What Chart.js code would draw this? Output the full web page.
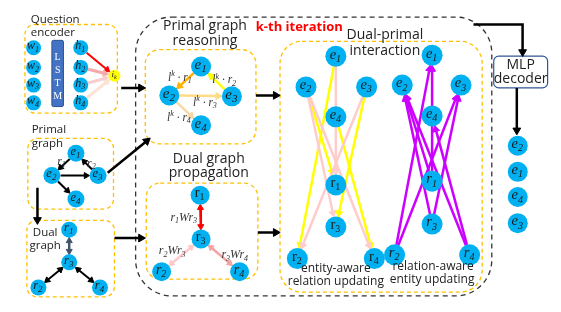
<!DOCTYPE html>
<html>
<head>
<meta charset="utf-8">
<script src="https://cdn.jsdelivr.net/npm/chart.js@4.4.0/dist/chart.umd.min.js"></script>
<style>
  html, body { margin: 0; padding: 0; background: #fff; }
  canvas { display: block; }
</style>
</head>
<body>
<canvas id="diagram" width="561" height="312"></canvas>
<script>
// Node positions, in figure units (the axes run 0..561 and 0..312)
const wordNodes = [
    { id: 'w1', t: 'w', s: '1', x: 24, y: 40 },
    { id: 'w2', t: 'w', s: '2', x: 24, y: 61 },
    { id: 'w3', t: 'w', s: '3', x: 24, y: 80 },
    { id: 'w4', t: 'w', s: '4', x: 24, y: 99 }
];
const hiddenNodes = [
    { id: 'h1', t: 'h', s: '1', x: 73, y: 40 },
    { id: 'h2', t: 'h', s: '2', x: 73, y: 61 },
    { id: 'h3', t: 'h', s: '3', x: 73, y: 80 },
    { id: 'h4', t: 'h', s: '4', x: 73, y: 99 }
];
const instructionNodes = [{ id: 'ik', t: 'i', s: 'k', x: 108, y: 70 }];
const primalNodes = [
    { id: 'pe1', t: 'e', s: '1', x: 68, y: 153 },
    { id: 'pe2', t: 'e', s: '2', x: 43, y: 177 },
    { id: 'pe3', t: 'e', s: '3', x: 91, y: 177 },
    { id: 'pe4', t: 'e', s: '4', x: 68, y: 202 }
];
const dualNodes = [
    { id: 'dr1', t: 'r', s: '1', x: 61, y: 235 },
    { id: 'dr3', t: 'r', s: '3', x: 61, y: 270 },
    { id: 'dr2', t: 'r', s: '2', x: 29, y: 297 },
    { id: 'dr4', t: 'r', s: '4', x: 93, y: 297 }
];
const reasoningNodes = [
    { id: 're1', t: 'e', s: '1', x: 198, y: 60 },
    { id: 're2', t: 'e', s: '2', x: 165, y: 91 },
    { id: 're3', t: 'e', s: '3', x: 230, y: 92 },
    { id: 're4', t: 'e', s: '4', x: 198, y: 123 }
];
const propagationNodes = [
    { id: 'pr1', t: 'r', s: '1', x: 197, y: 198, up: true },
    { id: 'pr3', t: 'r', s: '3', x: 198, y: 245, up: true },
    { id: 'pr2', t: 'r', s: '2', x: 157, y: 280 },
    { id: 'pr4', t: 'r', s: '4', x: 238, y: 280 }
];
const entityAwareNodes = [
    { id: 'ae1', t: 'e', s: '1', x: 338, y: 49 },
    { id: 'ae2', t: 'e', s: '2', x: 307, y: 82 },
    { id: 'ae3', t: 'e', s: '3', x: 370, y: 82 },
    { id: 'ae4', t: 'e', s: '4', x: 338, y: 114 },
    { id: 'ar1', t: 'r', s: '1', x: 338, y: 187, up: true },
    { id: 'ar3', t: 'r', s: '3', x: 338, y: 232, up: true },
    { id: 'ar2', t: 'r', s: '2', x: 298, y: 266, up: true },
    { id: 'ar4', t: 'r', s: '4', x: 378, y: 266, up: true }
];
const relationAwareNodes = [
    { id: 'be1', t: 'e', s: '1', x: 438, y: 48 },
    { id: 'be2', t: 'e', s: '2', x: 407, y: 80 },
    { id: 'be3', t: 'e', s: '3', x: 468, y: 80 },
    { id: 'be4', t: 'e', s: '4', x: 438, y: 113 },
    { id: 'br1', t: 'r', s: '1', x: 438, y: 183 },
    { id: 'br3', t: 'r', s: '3', x: 438, y: 229 },
    { id: 'br2', t: 'r', s: '2', x: 399, y: 262 },
    { id: 'br4', t: 'r', s: '4', x: 477, y: 262 }
];
const outputNodes = [
    { id: 'oe2', t: 'e', s: '2', x: 527, y: 145 },
    { id: 'oe1', t: 'e', s: '1', x: 527, y: 173 },
    { id: 'oe4', t: 'e', s: '4', x: 527, y: 200 },
    { id: 'oe3', t: 'e', s: '3', x: 527, y: 228 }
];

// Edges, as [from, to]
const attentionEdges = [['h4', 'ik'], ['h3', 'ik'], ['h2', 'ik'], ['h1', 'ik']];
const primalEdges = [['pe1', 'pe2'], ['pe3', 'pe1'], ['pe2', 'pe3'], ['pe2', 'pe4']];
const reasoningEdges = [['re2', 're4'], ['re2', 're3'], ['re1', 're2'], ['re3', 're1']];
const propagationEdges = [['pr2', 'pr3'], ['pr4', 'pr3'], ['pr1', 'pr3']];
const entityPinkEdges = [['ae1', 'ar1'], ['ae3', 'ar2'], ['ae2', 'ar3'], ['ae2', 'ar4']];
const entityYellowEdges = [['ae1', 'ar2'], ['ae2', 'ar1'], ['ae3', 'ar3'], ['ae4', 'ar4']];
const relationEdges = [
    ['br1', 'be1'], ['br1', 'be2'], ['br2', 'be3'], ['br2', 'be1'],
    ['br3', 'be2'], ['br3', 'be3'], ['br4', 'be2'], ['br4', 'be4']
];

// Black flow arrows between the blocks
const flowArrows = [
    [[115, 83], [140, 83]],
    [[101, 174], [145, 137]],
    [[28, 190], [28, 229]],
    [[108, 244], [140, 244]],
    [[255, 91], [280, 91]],
    [[257, 238], [280, 238]],
    [[481, 15], [532, 15], [532, 49]],
    [[526, 83], [526, 133]]
];

// Styles
const NODE_BLUE = '#00B0F0';
const BOX_ORANGE = '#FFC000';
const LABEL_FONT = '"Open Sans", "Noto Sans", sans-serif';
const MATH_FONT = '"Liberation Serif", "DejaVu Serif", serif';

const nodeIndex = {};
[wordNodes, hiddenNodes, instructionNodes, primalNodes, dualNodes, reasoningNodes,
 propagationNodes, entityAwareNodes, relationAwareNodes, outputNodes]
    .forEach(group => group.forEach(n => { nodeIndex[n.id] = n; }));

const nodeGroups = [
    { nodes: wordNodes, r: 7.5, fs: 12 },
    { nodes: hiddenNodes, r: 7.5, fs: 12 },
    { nodes: instructionNodes, r: 6, fs: 9, color: '#FFFF00' },
    { nodes: primalNodes, r: 8.5, fs: 12.5 },
    { nodes: dualNodes, r: 8, fs: 12.5 },
    { nodes: reasoningNodes, r: 10, fs: 15 },
    { nodes: propagationNodes, r: 9.5, fs: 14 },
    { nodes: entityAwareNodes, r: 10.5, fs: 14.5 },
    { nodes: relationAwareNodes, r: 10.5, fs: 14.5 },
    { nodes: outputNodes, r: 10, fs: 14.5 }
];
const radiusOf = {};
nodeGroups.forEach(g => g.nodes.forEach(n => { radiusOf[n.id] = g.r; }));

const toDeg = (ux, uy) => Math.atan2(ux, -uy) * 180 / Math.PI;

// One line dataset per edge; arrowheads are triangle point styles
function edgeDataset(from, to, color, width, head, doubleHead) {
    const a = nodeIndex[from], b = nodeIndex[to];
    const dx = b.x - a.x, dy = b.y - a.y;
    const len = Math.hypot(dx, dy);
    const ux = dx / len, uy = dy / len;
    const ra = radiusOf[from] + 0.5, rb = radiusOf[to] + 0.5;
    const startOff = doubleHead ? ra + head : ra;
    return {
        data: [
            { x: a.x + ux * startOff, y: a.y + uy * startOff },
            { x: b.x - ux * (rb + head), y: b.y - uy * (rb + head) }
        ],
        showLine: true,
        borderColor: color,
        borderWidth: width,
        pointRadius: [doubleHead ? head : 0, head],
        pointStyle: 'triangle',
        pointRotation: [toDeg(-ux, -uy), toDeg(ux, uy)],
        pointBackgroundColor: color,
        pointBorderColor: color,
        pointBorderWidth: 1,
        order: 2
    };
}

function flowDataset(points) {
    const n = points.length;
    const [px, py] = points[n - 2], [qx, qy] = points[n - 1];
    const len = Math.hypot(qx - px, qy - py);
    const ux = (qx - px) / len, uy = (qy - py) / len;
    const head = 4.5;
    const data = points.map(([x, y]) => ({ x, y }));
    data[n - 1] = { x: qx - ux * head, y: qy - uy * head };
    return {
        data,
        showLine: true,
        borderColor: '#000',
        borderWidth: 2.5,
        pointRadius: points.map((p, i) => (i === n - 1 ? head : 0)),
        pointStyle: 'triangle',
        pointRotation: toDeg(ux, uy),
        pointBackgroundColor: '#000',
        pointBorderColor: '#000',
        pointBorderWidth: 1,
        order: 2
    };
}

const datasets = [];
const attentionColors = ['#FBE3D6', '#F9CDCD', '#F6A9A9', '#FF0000'];
attentionEdges.forEach((e, i) => datasets.push(edgeDataset(e[0], e[1], attentionColors[i], i === 3 ? 2 : 3, 3.5)));
primalEdges.forEach(e => datasets.push(edgeDataset(e[0], e[1], '#000', 2, 3.5)));
datasets.push(edgeDataset('dr1', 'dr3', '#44546A', 2.5, 3.5, true));
datasets.push(edgeDataset('dr3', 'dr2', '#000', 2, 3.5, true));
datasets.push(edgeDataset('dr3', 'dr4', '#000', 2, 3.5, true));
const reasoningColors = ['#F9D8A6', '#FFDB85', '#FFB000', '#FFFF00'];
reasoningEdges.forEach((e, i) => datasets.push(edgeDataset(e[0], e[1], reasoningColors[i], 2.5, 4)));
const propagationColors = ['#FFC9C9', '#F4A3A3', '#FF0000'];
propagationEdges.forEach((e, i) => datasets.push(edgeDataset(e[0], e[1], propagationColors[i], 2.5, 3.5, true)));
entityPinkEdges.forEach(e => datasets.push(edgeDataset(e[0], e[1], '#FFCCCC', 2.5, 4)));
entityYellowEdges.forEach(e => datasets.push(edgeDataset(e[0], e[1], '#FFFF00', 2.5, 4)));
relationEdges.forEach(e => datasets.push(edgeDataset(e[0], e[1], '#CC00FF', 2.5, 4)));
flowArrows.forEach(p => datasets.push(flowDataset(p)));

nodeGroups.forEach(g => datasets.push({
    data: g.nodes.map(n => ({ x: n.x, y: n.y })),
    pointRadius: g.r,
    pointBackgroundColor: g.color || NODE_BLUE,
    pointBorderWidth: 0,
    order: 1
}));

// Dashed block outlines: [x0, y0, x1, y1, radius]
const orangeBoxes = [
    [15, 15, 111, 110, 10],
    [18, 137, 107, 213, 10],
    [17, 225, 108, 307, 10],
    [140, 42, 255, 143, 14],
    [141, 185, 257, 288, 14],
    [280, 33, 490, 302, 22]
];
const iterationBox = [130, 7, 500, 306, 36];
const decoderBox = [502, 49, 558, 83, 5];
const lstmBar = [43, 32, 55, 103];
const lstmLetters = ['L', 'S', 'T', 'M'];
const lstmRows = [50, 64, 78, 92];

const titles = [
    { s: 'Question', x: 21, y: 10, size: 11.5, align: 'left' },
    { s: 'encoder', x: 21, y: 24, size: 11.5, align: 'left' },
    { s: 'Primal', x: 22, y: 128, size: 11.5, align: 'left' },
    { s: 'graph', x: 22, y: 143, size: 11.5, align: 'left' },
    { s: 'Dual', x: 36, y: 238, size: 11.5 },
    { s: 'graph', x: 36, y: 252, size: 11.5 },
    { s: 'Primal graph', x: 202, y: 17, size: 14 },
    { s: 'reasoning', x: 202, y: 33, size: 14 },
    { s: 'Dual graph', x: 206, y: 159, size: 14 },
    { s: 'propagation', x: 206, y: 174, size: 14 },
    { s: 'Dual-primal', x: 389, y: 26, size: 14 },
    { s: 'interaction', x: 389, y: 43, size: 14 },
    { s: 'entity-aware', x: 338, y: 277, size: 12 },
    { s: 'relation updating', x: 338, y: 291, size: 12 },
    { s: 'relation-aware', x: 439, y: 275, size: 12 },
    { s: 'entity updating', x: 438, y: 288, size: 12 },
    { s: 'MLP', x: 530, y: 58, size: 14 },
    { s: 'decoder', x: 530, y: 73, size: 14 },
    { s: 'k-th iteration', x: 300, y: 18, size: 13, bold: true, color: '#FF0000' }
];

// Math labels on edges: parts are [text, 'n' | 'sub' | 'sup']
const edgeLabels = [
    { x: 176, y: 72, parts: [['l', 'n'], ['k', 'sup'], [' · r', 'n'], ['1', 'sub']] },
    { x: 222, y: 75, parts: [['l', 'n'], ['k', 'sup'], [' · r', 'n'], ['2', 'sub']] },
    { x: 202, y: 99, parts: [['l', 'n'], ['k', 'sup'], [' · r', 'n'], ['3', 'sub']] },
    { x: 175, y: 115, parts: [['l', 'n'], ['k', 'sup'], [' · r', 'n'], ['4', 'sub']] },
    { x: 180, y: 222, size: 12, parts: [['r', 'n'], ['1', 'sub'], ['Wr', 'n'], ['3', 'sub']] },
    { x: 168, y: 258, size: 12, parts: [['r', 'n'], ['2', 'sub'], ['Wr', 'n'], ['3', 'sub']] },
    { x: 233, y: 262, size: 12, parts: [['r', 'n'], ['3', 'sub'], ['Wr', 'n'], ['4', 'sub']] },
    { x: 53, y: 162, size: 12, parts: [['r', 'n'], ['1', 'sub']] },
    { x: 84, y: 164, size: 12, parts: [['r', 'n'], ['2', 'sub']] }
];

function roundRect(ctx, x0, y0, x1, y1, r) {
    ctx.beginPath();
    ctx.moveTo(x0 + r, y0);
    ctx.arcTo(x1, y0, x1, y1, r);
    ctx.arcTo(x1, y1, x0, y1, r);
    ctx.arcTo(x0, y1, x0, y0, r);
    ctx.arcTo(x0, y0, x1, y0, r);
    ctx.closePath();
}

function drawRich(ctx, x, y, parts, size, italic, color) {
    const style = italic ? 'italic ' : '';
    const fontFor = kind => style + (kind === 'n' ? size : Math.round(size * 0.7)) + 'px ' + MATH_FONT;
    let total = 0;
    parts.forEach(([t, kind]) => { ctx.font = fontFor(kind); total += ctx.measureText(t).width; });
    let cx = x - total / 2;
    ctx.fillStyle = color;
    ctx.textAlign = 'left';
    ctx.textBaseline = 'middle';
    parts.forEach(([t, kind]) => {
        ctx.font = fontFor(kind);
        const dy = kind === 'sub' ? size * 0.3 : kind === 'sup' ? -size * 0.35 : 0;
        ctx.fillText(t, cx, y + dy);
        cx += ctx.measureText(t).width;
    });
}

const diagramPlugin = {
    id: 'diagram',
    beforeDatasetsDraw(chart) {
        const { ctx, scales: { x, y } } = chart;
        const box = (b) => roundRect(ctx, x.getPixelForValue(b[0]), y.getPixelForValue(b[1]),
            x.getPixelForValue(b[2]), y.getPixelForValue(b[3]), b[4]);
        ctx.save();
        ctx.lineWidth = 1.3;
        ctx.strokeStyle = '#333';
        ctx.setLineDash([5, 4]);
        box(iterationBox);
        ctx.stroke();
        ctx.strokeStyle = BOX_ORANGE;
        ctx.setLineDash([4, 3]);
        orangeBoxes.forEach(b => { box(b); ctx.stroke(); });
        ctx.setLineDash([]);
        ctx.strokeStyle = '#2F5597';
        ctx.lineWidth = 1.2;
        box(decoderBox);
        ctx.fillStyle = '#fff';
        ctx.fill();
        ctx.stroke();
        // LSTM bar
        const lx0 = x.getPixelForValue(lstmBar[0]), ly0 = y.getPixelForValue(lstmBar[1]);
        const lx1 = x.getPixelForValue(lstmBar[2]), ly1 = y.getPixelForValue(lstmBar[3]);
        roundRect(ctx, lx0, ly0, lx1, ly1, 1.5);
        ctx.fillStyle = '#4472C4';
        ctx.fill();
        ctx.strokeStyle = '#2F528F';
        ctx.lineWidth = 1;
        ctx.stroke();
        ctx.fillStyle = '#fff';
        ctx.font = '10px ' + MATH_FONT;
        ctx.textAlign = 'center';
        ctx.textBaseline = 'middle';
        lstmLetters.forEach((l, i) => ctx.fillText(l, (lx0 + lx1) / 2, y.getPixelForValue(lstmRows[i])));
        ctx.restore();
    },
    afterDatasetsDraw(chart) {
        const { ctx, scales: { x, y } } = chart;
        ctx.save();
        nodeGroups.forEach(g => g.nodes.forEach(n => {
            drawRich(ctx, x.getPixelForValue(n.x) - 0.5, y.getPixelForValue(n.y) - 1.5,
                [[n.t, 'n'], [n.s, 'sub']], g.fs, !n.up, '#1a1a1a');
        }));
        edgeLabels.forEach(l => {
            drawRich(ctx, x.getPixelForValue(l.x), y.getPixelForValue(l.y), l.parts, l.size || 11.5, true, '#333');
        });
        ctx.textBaseline = 'middle';
        titles.forEach(t => {
            ctx.font = (t.bold ? 'bold ' : '') + t.size + 'px ' + LABEL_FONT;
            ctx.fillStyle = t.color || '#222';
            ctx.textAlign = t.align || 'center';
            ctx.fillText(t.s, x.getPixelForValue(t.x), y.getPixelForValue(t.y));
        });
        ctx.restore();
    }
};

new Chart(document.getElementById('diagram'), {
    type: 'scatter',
    data: { datasets },
    options: {
        responsive: false,
        animation: false,
        events: [],
        layout: { padding: 0 },
        plugins: { legend: { display: false }, tooltip: { enabled: false } },
        scales: {
            x: { type: 'linear', min: 0, max: 561, display: false },
            y: { type: 'linear', min: 0, max: 312, reverse: true, display: false }
        }
    },
    plugins: [diagramPlugin]
});
</script>
</body>
</html>
